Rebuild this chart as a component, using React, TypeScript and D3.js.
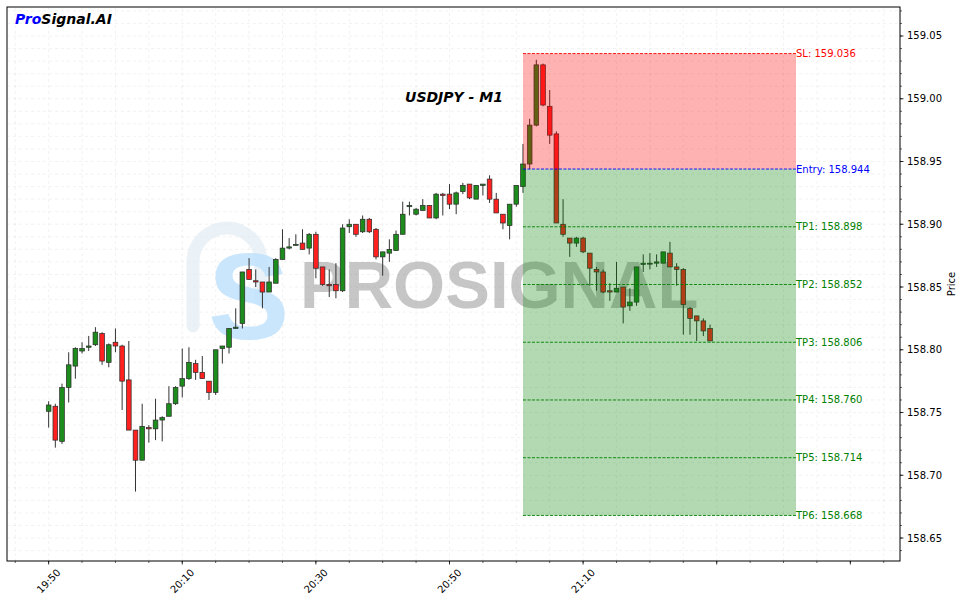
import React from "react";
import * as d3 from "d3";

// ---------- data ----------
const candleStart = new Date(2024, 0, 1, 19, 50, 0);
const opens = [158.751,158.755,158.727,158.770,158.787,158.799,158.802,158.804,158.813,158.790,158.806,158.803,158.776,158.736,158.712,158.738,158.737,158.744,158.747,158.757,158.771,158.777,158.789,158.782,158.775,158.766,158.801,158.802,158.817,158.821,158.864,158.855,158.854,158.846,158.853,158.872,158.881,158.884,158.885,158.881,158.892,158.866,158.852,158.852,158.847,158.898,158.900,158.894,158.904,158.896,158.874,158.877,158.879,158.892,158.914,158.908,158.911,158.915,158.905,158.924,158.924,158.916,158.926,158.932,158.920,158.931,158.936,158.920,158.908,158.899,158.916,158.930,158.948,158.979,159.027,158.994,158.972,158.900,158.889,158.885,158.889,158.877,158.864,158.862,158.847,158.846,158.850,158.835,158.838,158.868,158.869,158.869,158.869,158.877,158.866,158.864,158.833,158.827,158.823,158.817];
const highs = [158.759,158.757,158.773,158.798,158.802,158.806,158.811,158.818,158.814,158.805,158.817,158.804,158.807,158.736,158.757,158.740,158.761,158.747,158.771,158.771,158.801,158.802,158.792,158.795,158.775,158.800,158.803,158.817,158.833,158.862,158.873,158.864,158.854,158.866,158.873,158.896,158.889,158.892,158.896,158.893,158.894,158.866,158.864,158.869,158.900,158.904,158.900,158.907,158.905,158.897,158.878,158.888,158.895,158.918,158.918,158.913,158.920,158.915,158.925,158.925,158.932,158.926,158.933,158.932,158.931,158.932,158.939,158.925,158.908,158.916,158.931,158.964,158.984,159.031,159.028,159.007,158.974,158.920,158.889,158.890,158.890,158.877,158.866,158.864,158.853,158.870,158.850,158.849,158.866,158.876,158.877,158.876,158.878,158.886,158.869,158.865,158.834,158.827,158.825,158.820];
const lows = [158.738,158.722,158.725,158.758,158.777,158.797,158.799,158.803,158.788,158.786,158.798,158.752,158.736,158.687,158.712,158.726,158.728,158.727,158.747,158.756,158.762,158.776,158.776,158.777,158.760,158.764,158.789,158.797,158.817,158.817,158.856,158.850,158.833,158.846,158.853,158.872,158.880,158.883,158.880,158.876,158.857,158.851,158.842,158.841,158.846,158.893,158.890,158.893,158.893,158.872,158.859,158.870,158.879,158.892,158.907,158.907,158.911,158.905,158.904,158.907,158.912,158.908,158.924,158.920,158.920,158.923,158.917,158.909,158.896,158.888,158.914,158.925,158.944,158.978,158.994,158.964,158.901,158.890,158.874,158.882,158.877,158.851,158.847,158.845,158.839,158.846,158.821,158.831,158.835,158.862,158.864,158.866,158.869,158.866,158.851,158.812,158.812,158.807,158.811,158.807];
const closes = [158.756,158.728,158.770,158.788,158.801,158.801,158.803,158.814,158.791,158.804,158.803,158.775,158.736,158.712,158.739,158.737,158.744,158.746,158.757,158.770,158.777,158.790,158.782,158.777,158.766,158.800,158.803,158.817,158.818,158.862,158.856,158.854,158.846,158.854,158.872,158.881,158.882,158.884,158.880,158.892,158.865,158.852,158.851,158.847,158.897,158.900,158.892,158.904,158.894,158.874,158.878,158.880,158.892,158.908,158.915,158.912,158.915,158.905,158.924,158.923,158.916,158.925,158.931,158.921,158.931,158.932,158.920,158.909,158.901,158.916,158.931,158.948,158.979,159.027,158.995,158.971,158.901,158.892,158.885,158.889,158.878,158.865,158.862,158.846,158.846,158.849,158.834,158.838,158.866,158.869,158.869,158.870,158.878,158.866,158.864,158.836,158.825,158.823,158.815,158.807];

const levelNames = ["SL", "Entry", "TP1", "TP2", "TP3", "TP4", "TP5", "TP6"];
const levelValues = [159.036, 158.944, 158.898, 158.852, 158.806, 158.760, 158.714, 158.668];

const xDomain = [new Date(2024, 0, 1, 19, 43, 46), new Date(2024, 0, 1, 21, 57, 26)];
const yDomain = [158.6317, 159.0731];
const zoneStart = new Date(2024, 0, 1, 21, 1, 0);
const zoneEnd = new Date(2024, 0, 1, 21, 41, 52);

const majorTickTimes = ["19:50", "20:10", "20:30", "20:50", "21:10", "21:30", "21:50"];
const majorTickLabels = ["19:50", "20:10", "20:30", "20:50", "21:10", "", ""];
const yMajorTicks = [158.65, 158.70, 158.75, 158.80, 158.85, 158.90, 158.95, 159.00, 159.05];

const title = "USDJPY - M1";

// ---------- layout ----------
const W = 963, H = 603;
const L = 7, R = 900, T = 7, B = 561;
const FONT = "DejaVu Sans, sans-serif";

const toDate = (s: string) => {
  const [h, m] = s.split(":").map(Number);
  return new Date(2024, 0, 1, h, m, 0);
};

export default function App() {
  const x = d3.scaleTime().domain(xDomain).range([L, R]);
  const y = d3.scaleLinear().domain(yDomain).range([B, T]);
  const times = opens.map((_, i) => d3.timeMinute.offset(candleStart, i));
  const minutePx = x(d3.timeMinute.offset(candleStart, 1)) - x(candleStart);
  const bw = minutePx * 0.7;

  const minorX = d3.timeMinute.every(5)!.range(xDomain[0], xDomain[1]);
  const minorY = d3.range(Math.ceil(yDomain[0] * 100), Math.floor(yDomain[1] * 100) + 1).map((v) => v / 100);

  const zx0 = x(zoneStart), zx1 = x(zoneEnd);
  const levelColor = (i: number) => (i === 0 ? "#ff0000" : i === 1 ? "#0000ff" : "#008000");

  return (
    <svg width={W} height={H} style={{ position: "absolute", left: 0, top: 0, background: "#fff" }}>
      <rect x={0} y={0} width={W} height={H} fill="#fff" />
      {/* grid */}
      <g stroke="#c8c8c8" strokeOpacity={0.4} strokeWidth={0.6} strokeDasharray="3,3">
        {minorX.map((t, i) => (
          <line key={"gx" + i} x1={x(t)} x2={x(t)} y1={T} y2={B} />
        ))}
        {minorY.map((v, i) => (
          <line key={"gy" + i} x1={L} x2={R} y1={y(v)} y2={y(v)} />
        ))}
      </g>

      {/* watermark */}
      <path d="M 193 326 L 193 262 A 34 34 0 0 1 261 262 L 261 300" fill="none" stroke="#e3ecf3" strokeOpacity={0.7} strokeWidth={13} strokeLinecap="round" />
      <text x={208} y={339} fontFamily="Liberation Sans, Arial, sans-serif" fontWeight="bold" fontSize={122} fill="#bfe2fb" fillOpacity={0.85}>S</text>
      <text x={300} y={308} fontFamily="Liberation Sans, Arial, sans-serif" fontWeight="bold" fontSize={67} fill="#808080" fillOpacity={0.45}>PROSIGNAL</text>

      {/* candles */}
      {times.map((t, i) => {
        const o = opens[i], c = closes[i], h = highs[i], l = lows[i];
        const up = c >= o;
        const cx = x(t);
        const top = y(Math.max(o, c));
        const bot = y(Math.min(o, c));
        return (
          <g key={"c" + i}>
            <line x1={cx} x2={cx} y1={y(h)} y2={y(l)} stroke="#333" strokeWidth={1} />
            <rect x={cx - bw / 2} y={top} width={bw} height={Math.max(bot - top, 1)} fill={up ? "#1c8c1c" : "#ff2020"} stroke="#2a2a2a" strokeWidth={0.7} />
          </g>
        );
      })}

      {/* zones */}
      <rect x={zx0} y={y(levelValues[0])} width={zx1 - zx0} height={y(levelValues[1]) - y(levelValues[0])} fill="#ff0000" fillOpacity={0.3} />
      <rect x={zx0} y={y(levelValues[1])} width={zx1 - zx0} height={y(levelValues[7]) - y(levelValues[1])} fill="#008000" fillOpacity={0.3} />

      {/* levels */}
      {levelValues.map((v, i) => (
        <g key={"lv" + i}>
          <line x1={zx0} x2={zx1} y1={y(v)} y2={y(v)} stroke={levelColor(i)} strokeWidth={0.9} strokeDasharray="3,1.5" />
          <text x={zx1} y={y(v)} dy="0.35em" fontFamily={FONT} fontSize={10} fill={levelColor(i)}>
            {`${levelNames[i]}: ${v.toFixed(3)}`}
          </text>
        </g>
      ))}

      {/* title & logo */}
      <text x={454} y={97} dy="0.35em" textAnchor="middle" fontFamily={FONT} fontWeight="bold" fontStyle="italic" fontSize={14} fill="#000">{title}</text>
      <text x={15} y={19} dy="0.35em" fontFamily={FONT} fontWeight="bold" fontStyle="italic" fontSize={14}>
        <tspan fill="#0000ff">Pro</tspan>
        <tspan fill="#000">Signal.AI</tspan>
      </text>

      {/* frame */}
      <rect x={L} y={T} width={R - L} height={B - T} fill="none" stroke="#000" strokeWidth={1} />

      {/* x ticks */}
      {minorX.map((t, i) => (
        <line key={"mx" + i} x1={x(t)} x2={x(t)} y1={B} y2={B + 2} stroke="#000" strokeWidth={0.6} />
      ))}
      {majorTickTimes.map((s, i) => {
        const tx = x(toDate(s));
        return (
          <g key={"Mx" + i}>
            <line x1={tx} x2={tx} y1={B} y2={B + 3.5} stroke="#000" strokeWidth={0.8} />
            {majorTickLabels[i] && (
              <text transform={`translate(${tx},${B + 20}) rotate(-45)`} textAnchor="middle" dy="0.35em" fontFamily={FONT} fontSize={10} fill="#000">
                {majorTickLabels[i]}
              </text>
            )}
          </g>
        );
      })}

      {/* y ticks (right) */}
      {minorY.map((v, i) => (
        <line key={"my" + i} x1={R} x2={R + 2} y1={y(v)} y2={y(v)} stroke="#000" strokeWidth={0.6} />
      ))}
      {yMajorTicks.map((v, i) => (
        <g key={"My" + i}>
          <line x1={R} x2={R + 3.5} y1={y(v)} y2={y(v)} stroke="#000" strokeWidth={0.8} />
          <text x={R + 7} y={y(v)} dy="0.35em" fontFamily={FONT} fontSize={10} fill="#000">{v.toFixed(2)}</text>
        </g>
      ))}
      <text transform={`translate(951,${(T + B) / 2}) rotate(-90)`} textAnchor="middle" dy="0.35em" fontFamily={FONT} fontSize={10} fill="#000">Price</text>
    </svg>
  );
}
